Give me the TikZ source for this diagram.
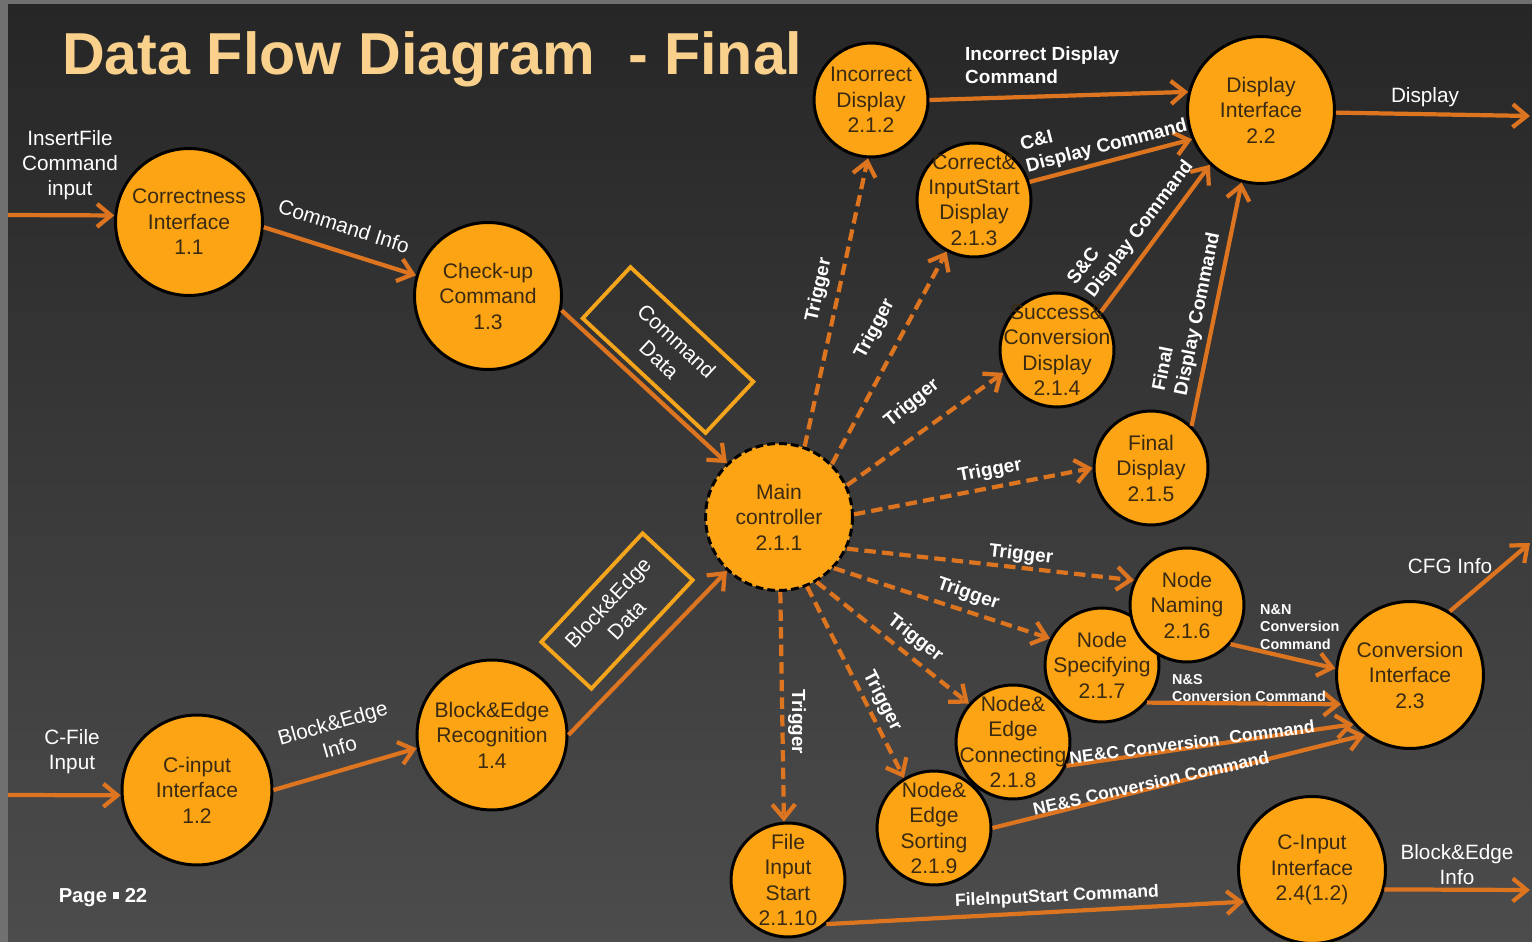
\documentclass[tikz,border=0pt]{standalone}
\usepackage{fontspec}
\setmainfont{Liberation Sans}
\usetikzlibrary{arrows.meta}
\definecolor{procFill}{HTML}{FCA413}
\definecolor{procText}{HTML}{3B2A12}
\definecolor{flowOrange}{HTML}{DC7420}
\definecolor{storeLine}{HTML}{F4A51C}
\definecolor{titleCol}{HTML}{F9D18C}
\definecolor{bgTop}{HTML}{262626}
\definecolor{bgBot}{HTML}{4C4C4C}
\definecolor{rimGray}{HTML}{707070}

\begin{document}
\begin{tikzpicture}[x=0.02cm,y=-0.02cm,
    proc/.style={circle,draw=black,line width=1.7pt,fill=procFill,text=procText,
      align=center,inner sep=-0.3cm,font=\fontsize{12}{14.5}\selectfont},
    big/.style={proc,minimum size=2.94cm},
    small/.style={proc,minimum size=2.28cm},
    arr/.style={draw=flowOrange,line width=2.4pt,-{Straight Barb[length=2.8mm,width=4.6mm]}},
    trig/.style={arr,dash pattern=on 6.5pt off 3.5pt},
    store/.style={draw=storeLine,line width=2.2pt,text=white,align=center,
      font=\fontsize{12}{14.5}\selectfont},
    lbl/.style={text=white,align=center,font=\fontsize{11.8}{14.2}\selectfont},
    blbl/.style={text=white,align=center,font=\bfseries\fontsize{10.8}{12.8}\selectfont},
    clbl/.style={text=white,font=\bfseries\fontsize{10}{12}\selectfont},
    slbl/.style={text=white,align=left,font=\bfseries\fontsize{8.2}{10}\selectfont}]
  \useasboundingbox (0,0) rectangle (1532,942);
  % slide background
  \shade[top color=bgTop,bottom color=bgBot] (0,0) rectangle (1532,942);
  \fill[rimGray] (0,0) rectangle (8,942);
  \fill[rimGray] (0,0) rectangle (1532,4);
  \node[anchor=base west,text=titleCol,font=\bfseries\fontsize{33.7}{40}\selectfont]
    (title) at (56,75) {Data Flow Diagram\ \ - Final};

  % processes
  \node[big] (c11) at (189,222) {Correctness\\Interface\\1.1};
  \node[big] (c13) at (488,296) {Check-up\\Command\\1.3};
  \node[big,minimum size=3cm] (c12) at (197,790) {C-input\\Interface\\1.2};
  \node[big,minimum size=3cm] (c14) at (492,735) {Block\&Edge\\Recognition\\1.4};
  \node[big,dash pattern=on 4.5pt off 2.3pt] (c211) at (779,517) {Main\\controller\\2.1.1};
  \node[small] (c212) at (871,100) {Incorrect\\Display\\2.1.2};
  \node[small] (c213) at (974,200) {Correct\&\\InputStart\\Display\\2.1.3};
  \node[big] (c22) at (1261,110) {Display\\Interface\\2.2};
  \node[small] (c214) at (1057,350) {Success\&\\Conversion\\Display\\2.1.4};
  \node[small] (c215) at (1151,468) {Final\\Display\\2.1.5};
  \node[small] (c219) at (934,828) {Node\&\\Edge\\Sorting\\2.1.9};
  \node[small] (c218) at (1013,742) {Node\&\\Edge\\Connecting\\2.1.8};
  \node[small] (c217) at (1102,665) {Node\\Specifying\\2.1.7};
  \node[small] (c216) at (1187,605) {Node\\Naming\\2.1.6};
  \node[small] (c2110) at (788,880) {File\\Input\\Start\\2.1.10};
  \node[big] (c23) at (1410,675) {Conversion\\Interface\\2.3};
  \node[big] (c24) at (1312,870) {C-Input\\Interface\\2.4(1.2)};

  % data stores
  \node[store,rotate=-43,minimum width=3.36cm,minimum height=1.4cm] (sCmd) at (668,350) {Command\\Data};
  \node[store,rotate=47,minimum width=2.97cm,minimum height=1.37cm] (sBE) at (617,611) {Block\&Edge\\Data};

  % outside ends
  \coordinate (inA) at (8,215);
  \coordinate (inB) at (8,795);
  \coordinate (outD) at (1530,116);
  \coordinate (outCFG) at (1530,543);
  \coordinate (outBE) at (1530,890);

  % input side
  \draw[arr] (inA) -- (c11.175);
  \draw[arr] (c11.-4) -- (c13.164);
  \draw[arr] (c13.-11) -- (c211.134);
  \draw[arr] (inB) -- (c12.184);
  \draw[arr] (c12.0) -- (c14.190);
  \draw[arr] (c14.0) -- (c211.226);
  \node[lbl] (lInA) at (70,165) {InsertFile\\Command\\input};
  \node[lbl,rotate=-17.5] (lCmdInfo) at (344,226) {Command Info};
  \node[lbl] (lInB) at (72,752) {C-File\\Input};
  \node[lbl,rotate=16] (lBEInfo) at (336,735) {Block\&Edge\\Info};

  % triggers
  \draw[trig] (c211.70) -- (c212.267);
  \draw[trig] (c211.45) -- (c213.242);
  \draw[trig] (c211.25) -- (c214.203);
  \draw[trig] (c211.2) -- (c215.180);
  \draw[trig] (c211.-25) -- (c216.155);
  \draw[trig] (c211.-43) -- (c217.153);
  \draw[trig] (c211.-60) -- (c218.139);
  \draw[trig] (c211.-68) -- (c219.121);
  \draw[trig] (c211.-89) -- (c2110.94);
  \node[blbl,rotate=77.5] (lT1) at (819,290) {Trigger};
  \node[blbl,rotate=62] (lT2) at (875,329) {Trigger};
  \node[blbl,rotate=39] (lT3) at (912,403) {Trigger};
  \node[blbl,rotate=11] (lT4) at (990,471) {Trigger};
  \node[blbl,rotate=-6.5] (lT5) at (1021,555) {Trigger};
  \node[blbl,rotate=-19] (lT6) at (968,594) {Trigger};
  \node[blbl,rotate=-38] (lT7) at (915,638) {Trigger};
  \node[blbl,rotate=-63] (lT8) at (882,701) {Trigger};
  \node[blbl,rotate=-90] (lT9) at (797,722) {Trigger};

  % display side
  \draw[arr] (c212.0) -- (c22.166);
  \draw[arr] (c213.18) -- (c22.203);
  \draw[arr] (c214.41) -- (c22.227);
  \draw[arr] (c215.46) -- (c22.255);
  \draw[arr] (c22.-2) -- (outD);
  \node[blbl,align=left,anchor=west] (lIncD) at (959,65) {Incorrect Display\\Command};
  \node[blbl,align=left,rotate=14.5] (lCI) at (1104,136) {C\&I\\Display Command};
  \node[blbl,align=left,rotate=53] (lSC) at (1131,223) {S\&C\\Display Command};
  \node[blbl,align=left,rotate=78.5] (lFD) at (1187,312) {Final\\Display Command};
  \node[lbl] (lDisp) at (1425,97) {Display};

  % conversion side
  \draw[arr] (c216.-42) -- (c23.175);
  \draw[arr] (c217.-40) -- (c23.203);
  \draw[arr] (c218.-24) -- (c23.221);
  \draw[arr] (c219.0) -- (c23.233);
  \draw[arr] (c2110.-49) -- (c24.205);
  \draw[arr] (c23.58) -- (outCFG);
  \draw[arr] (c24.-15) -- (outBE);
  \node[slbl,anchor=west] (lNN) at (1254,627) {N\&N\\Conversion\\Command};
  \node[slbl,anchor=west] (lNS) at (1166,688) {N\&S\\Conversion Command};
  \node[clbl,rotate=7.4] (lNEC) at (1192,742) {NE\&C Conversion\ \ Command};
  \node[clbl,rotate=12.6] (lNES) at (1151,783) {NE\&S Conversion Command};
  \node[clbl,rotate=2.6] (lFIS) at (1057,897) {FileInputStart Command};
  \node[lbl] (lCFG) at (1450,566) {CFG Info};
  \node[lbl] (lBEout) at (1457,865) {Block\&Edge\\Info};

  \node[text=white,font=\bfseries\fontsize{11.5}{13}\selectfont] (page) at (103,898)
    {Page \raisebox{0.2em}{\rule{0.32em}{0.32em}} 22};
\end{tikzpicture}
\end{document}
